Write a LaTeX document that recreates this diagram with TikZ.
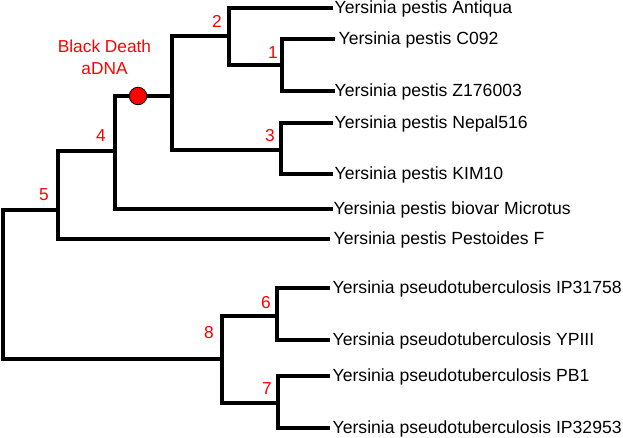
\documentclass[tikz,border=0pt]{standalone}
\usepackage{fontspec}
\setmainfont{Liberation Sans}
\begin{document}
\begin{tikzpicture}[x=1pt,y=-1pt,
  branch/.style={line width=3.2pt, line cap=rect},
  leaf/.style={anchor=west, inner xsep=3pt, inner ysep=0pt, text height=10.5pt, text depth=0pt, font=\fontsize{17.6}{20}\selectfont},
  num/.style={text=red, inner sep=0pt, font=\fontsize{17.3}{20}\selectfont},
  event/.style={circle, fill=red, draw=black, line width=0.8pt, minimum size=17.5pt, inner sep=0pt}]
\useasboundingbox (0,0) rectangle (623,438);
% internal nodes
\coordinate (root) at (3,284);
\coordinate (n5) at (58,210);
\coordinate (n4) at (115,151);
\coordinate (nbd) at (172,96);
\coordinate (n2) at (229,36);
\coordinate (n1) at (282,65);
\coordinate (n3) at (281,150);
\coordinate (n8) at (222,359);
\coordinate (n6) at (277,316);
\coordinate (n7) at (278,403);
% leaves
\node[leaf] (antiqua) at (331.5,8) {Yersinia pestis Antiqua};
\node[leaf, inner xsep=5pt] (c092) at (333.5,39) {Yersinia pestis C092};
\node[leaf, inner xsep=1pt] (z176) at (333.5,91) {Yersinia pestis Z176003};
\node[leaf] (nepal) at (331.5,123) {Yersinia pestis Nepal516};
\node[leaf] (kim) at (331.5,174) {Yersinia pestis KIM10};
\node[leaf, inner xsep=2pt] (micro) at (331.5,209) {Yersinia pestis biovar Microtus};
\node[leaf, inner xsep=5pt] (pestoides) at (328.5,239) {Yersinia pestis Pestoides F};
\node[leaf, inner xsep=4pt] (ip31758) at (328.5,288) {Yersinia pseudotuberculosis IP31758};
\node[leaf, inner xsep=4pt] (ypiii) at (328.5,340) {Yersinia pseudotuberculosis YPIII};
\node[leaf, inner xsep=4pt] (pb1) at (328.5,376) {Yersinia pseudotuberculosis PB1};
\node[leaf, inner xsep=4pt] (ip32953) at (328.5,428) {Yersinia pseudotuberculosis IP32953};
% branches
\draw[branch] (root) |- (n5);
\draw[branch] (root) |- (n8);
\draw[branch] (n5) |- (n4);
\draw[branch] (n5) |- (pestoides.west);
\draw[branch] (n4) |- (nbd);
\draw[branch] (n4) |- (micro.west);
\draw[branch] (nbd) |- (n2);
\draw[branch] (nbd) |- (n3);
\draw[branch] (n2) |- (antiqua.west);
\draw[branch] (n2) |- (n1);
\draw[branch] (n1) |- (c092.west);
\draw[branch] (n1) |- (z176.west);
\draw[branch] (n3) |- (nepal.west);
\draw[branch] (n3) |- (kim.west);
\draw[branch] (n8) |- (n6);
\draw[branch] (n8) |- (n7);
\draw[branch] (n6) |- (ip31758.west);
\draw[branch] (n6) |- (ypiii.west);
\draw[branch] (n7) |- (pb1.west);
\draw[branch] (n7) |- (ip32953.west);
% Black Death marker
\node[event] (bd) at (138,96) {};
\node[num, align=center, font=\fontsize{17.3}{22}\selectfont] (bdlabel) at (104.5,57) {Black Death\\aDNA};
% node numbers
\node[num] (l2) at (217,21) {2};
\node[num] (l1) at (273,53) {1};
\node[num] (l3) at (270,136) {3};
\node[num] (l4) at (101,136) {4};
\node[num] (l5) at (44,195) {5};
\node[num] (l8) at (209,333) {8};
\node[num] (l6) at (266,303) {6};
\node[num] (l7) at (267,389) {7};
\end{tikzpicture}
\end{document}
